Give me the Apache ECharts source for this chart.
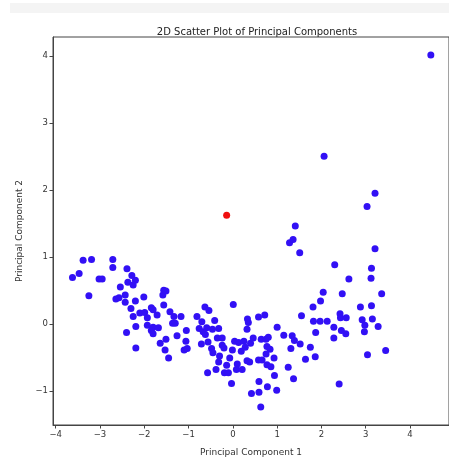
<!DOCTYPE html>
<html>
<head>
<meta charset="utf-8">
<script src="https://cdn.jsdelivr.net/npm/echarts@6/dist/echarts.min.js"></script>
<style>
html, body { margin: 0; padding: 0; background: #fff; }
#chart { width: 449px; height: 462px; }
</style>
</head>
<body>
<div id="chart"></div>
<script>
// principal component scores
const pc1 = [
  -3.38, -3.19, -2.71, -2.71, -3.47, -3.62, -3.02, -2.95, -2.39, -2.28,
  -2.20, -2.37, -2.25, -2.54, -3.25, -2.64, -2.57, -2.43, -2.43, -2.20,
  -2.01, -1.56, -1.58, -1.51, -1.56, -2.30, -2.10, -1.99, -1.84, -1.80,
  -2.25, -1.93, -1.71, -1.42, -1.33, -1.17, -1.36, -1.30, -2.19, -1.93,
  -1.80, -1.68, -1.84, -1.80, -2.40, -2.19, -1.64, -1.51, -1.53, -1.45,
  -0.81, -0.63, -0.54, -0.70, -0.41, 0.01, 0.33, 0.35, 0.58, 0.72,
  -1.26, -1.05, -1.06, -1.10, -1.03, -0.76, -0.67, -0.59, -0.46, -0.32,
  -0.62, -0.56, -0.71, -0.48, -0.45, -0.35, -0.24, -0.24, -0.20, -0.30,
  -0.32, -0.57, -0.38, -0.19, -0.10, -0.14, -0.07, -0.01, 0.04, 0.13,
  0.25, 0.40, 0.46, 0.32, -0.03, 0.10, 0.08, 0.21, 0.32, 0.38,
  0.19, 0.28, 0.64, 0.75, 0.80, 0.77, 0.84, 0.75, 0.58, 0.66,
  0.77, 0.86, 0.93, 1.00, 1.15, 0.94, 0.59, 0.78, 0.99, 0.42,
  0.59, 0.63, 1.28, 1.36, 1.51, 3.21, 2.30, 3.13, 3.12, 2.62,
  2.04, 2.47, 3.36, 1.98, 1.81, 2.88, 3.13, 1.55, 1.82, 1.97,
  2.13, 2.42, 2.43, 2.56, 2.92, 3.15, 2.06, 3.21, 3.03, 1.41,
  4.47, 1.34, 1.39, 1.52, 1.31, 1.75, 1.87, 2.28, 2.28, 2.45,
  2.55, 2.98, 2.97, 3.28, 1.64, 1.86, 3.04, 3.45, 1.25, 1.37,
  2.40
];
const pc2 = [
  0.95, 0.96, 0.96, 0.84, 0.75, 0.69, 0.67, 0.67, 0.82, 0.72,
  0.65, 0.62, 0.58, 0.55, 0.42, 0.37, 0.39, 0.43, 0.32, 0.34,
  0.40, 0.50, 0.43, 0.49, 0.28, 0.23, 0.16, 0.17, 0.24, 0.21,
  0.11, 0.09, 0.13, 0.18, 0.11, 0.11, 0.01, 0.01, -0.04, -0.02,
  -0.05, -0.06, -0.10, -0.15, -0.13, -0.36, -0.29, -0.23, -0.39, -0.51,
  0.11, 0.25, 0.20, 0.03, 0.05, 0.29, 0.07, 0.02, 0.10, 0.13,
  -0.18, -0.10, -0.26, -0.39, -0.37, -0.07, -0.12, -0.06, -0.08, -0.07,
  -0.16, -0.27, -0.30, -0.37, -0.43, -0.21, -0.21, -0.32, -0.36, -0.48,
  -0.57, -0.73, -0.68, -0.73, -0.73, -0.62, -0.51, -0.39, -0.26, -0.28,
  -0.26, -0.29, -0.21, -0.08, -0.89, -0.60, -0.68, -0.68, -0.55, -0.57,
  -0.41, -0.35, -0.23, -0.23, -0.20, -0.34, -0.38, -0.45, -0.54, -0.54,
  -0.61, -0.64, -0.51, -0.05, -0.17, -0.77, -0.86, -0.94, -0.99, -1.04,
  -1.02, -1.24, 1.21, 1.26, 1.06, 1.12, 0.88, 0.83, 0.68, 0.67,
  0.47, 0.45, 0.45, 0.34, 0.25, 0.25, 0.27, 0.12, 0.04, 0.04,
  0.04, 0.15, 0.09, 0.09, 0.06, 0.07, 2.50, 1.95, 1.75, 1.46,
  4.01, -0.18, -0.25, -0.30, -0.37, -0.35, -0.13, -0.05, -0.21, -0.10,
  -0.15, -0.02, -0.12, -0.04, -0.53, -0.49, -0.46, -0.40, -0.65, -0.82,
  -0.90
];
// the single highlighted sample
const redX = [-0.14];
const redY = [1.62];

const xTicks = [-4, -3, -2, -1, 0, 1, 2, 3, 4];
const yTicks = [-1, 0, 1, 2, 3, 4];

const zip = (xs, ys) => xs.map((v, i) => [v, ys[i]]);
const minus = v => String(v).replace('-', '\u2212');

const chart = echarts.init(document.getElementById('chart'));
const axisText = { color: '#333', fontFamily: 'DejaVu Sans', fontSize: 8.5 };

chart.setOption({
  animation: false,
  backgroundColor: '#fff',
  graphic: [
    { type: 'rect', shape: { x: 10, y: 3, width: 439, height: 10 }, style: { fill: '#f4f4f4' }, silent: true }
  ],
  title: {
    text: '2D Scatter Plot of Principal Components',
    left: 252,
    top: 22,
    textAlign: 'center',
    textStyle: { fontFamily: 'DejaVu Sans', fontSize: 10, fontWeight: 'normal', color: '#222' }
  },
  grid: {
    left: 53, top: 37, width: 399, height: 394,
    show: true, borderColor: '#444', borderWidth: 1, backgroundColor: 'transparent'
  },
  xAxis: {
    type: 'value',
    min: -4.06,
    max: 4.88,
    name: 'Principal Component 1',
    nameLocation: 'middle',
    nameGap: 23,
    nameTextStyle: { fontFamily: 'DejaVu Sans', fontSize: 9, color: '#333' },
    axisLine: { show: true, onZero: false, lineStyle: { color: '#444', width: 1 } },
    axisTick: { show: true, length: 3.5, customValues: xTicks, lineStyle: { color: '#444' } },
    axisLabel: { ...axisText, margin: 5, customValues: xTicks, formatter: minus },
    splitLine: { show: false }
  },
  yAxis: {
    type: 'value',
    min: -1.51,
    max: 4.28,
    name: 'Principal Component 2',
    nameLocation: 'middle',
    nameGap: 26,
    nameTextStyle: { fontFamily: 'DejaVu Sans', fontSize: 9, color: '#333' },
    axisLine: { show: true, onZero: false, lineStyle: { color: '#444', width: 1 } },
    axisTick: { show: true, length: 3.5, customValues: yTicks, lineStyle: { color: '#444' } },
    axisLabel: { ...axisText, margin: 5, customValues: yTicks, formatter: minus },
    splitLine: { show: false }
  },
  series: [
    {
      type: 'scatter',
      data: zip(pc1, pc2),
      symbolSize: 7,
      itemStyle: { color: '#3210f5', opacity: 1 }
    },
    {
      type: 'scatter',
      data: zip(redX, redY),
      symbolSize: 7,
      itemStyle: { color: '#f01010', opacity: 1 }
    }
  ]
});
</script>
</body>
</html>
